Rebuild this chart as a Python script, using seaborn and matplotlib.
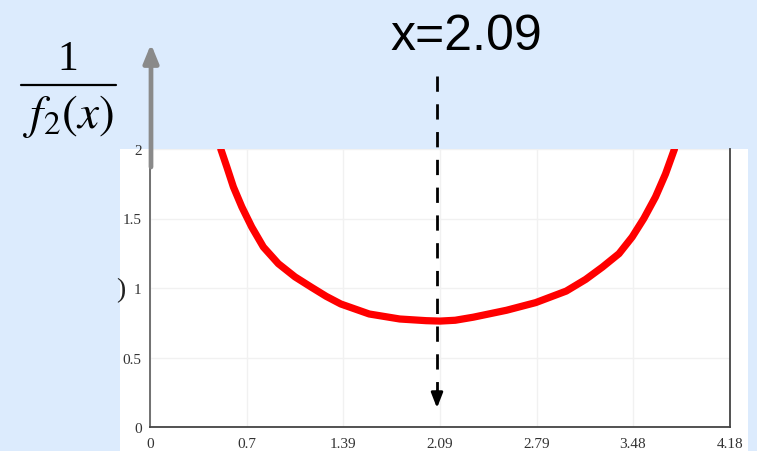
import matplotlib
matplotlib.use("Agg")
import matplotlib.pyplot as plt
import seaborn as sns
from matplotlib.patches import Rectangle
from matplotlib.lines import Line2D

# ---- data ----
x_vals = [0.51, 0.554, 0.601, 0.662, 0.733, 0.817, 0.925, 1.045, 1.164, 1.27,
          1.375, 1.58, 1.80, 1.99, 2.09, 2.20, 2.33, 2.57, 2.78, 3.00, 3.14,
          3.26, 3.38, 3.475, 3.559, 3.643, 3.715, 3.78]
y_vals = [2.00, 1.87, 1.727, 1.583, 1.439, 1.295, 1.175, 1.08, 1.005, 0.94,
          0.885, 0.813, 0.777, 0.765, 0.762, 0.768, 0.79, 0.84, 0.895, 0.978, 1.062,
          1.15, 1.247, 1.367, 1.50, 1.655, 1.82, 2.00]
x_ticks = [0, 0.7, 1.39, 2.09, 2.79, 3.48, 4.18]
x_tick_labels = ["0", "0.7", "1.39", "2.09", "2.79", "3.48", "4.18"]
y_ticks = [0, 0.5, 1, 1.5, 2]
y_tick_labels = ["0", "0.5", "1", "1.5", "2"]
marker_x_label = "x=2.09"

W, H = 757, 452
BG = "#dcebfd"

sns.set_style("white")
plt.rcParams["font.family"] = ["Liberation Serif", "DejaVu Serif"]

fig = plt.figure(figsize=(W / 100, H / 100), dpi=100, facecolor=BG)

def fx(px):
    return px / W

def fy(py):
    return 1 - py / H

# background layer (pixel coords, y down)
bg = fig.add_axes([0, 0, 1, 1], zorder=0)
bg.set_xlim(0, W)
bg.set_ylim(H, 0)
bg.axis("off")
bg.add_patch(Rectangle((120, 150), 628, 310, facecolor="white", edgecolor="none"))

# main axes
L, R, T, B = 150, 730, 150, 428
ax = fig.add_axes([fx(L), fy(B), (R - L) / W, (B - T) / H], zorder=1)
ax.set_facecolor("white")
sns.lineplot(x=x_vals, y=y_vals, ax=ax, color="#ff0000", linewidth=5.2)
ax.set_xlim(0, 4.18)
ax.set_ylim(0, 2)
ax.set_xticks(x_ticks)
ax.set_xticklabels(x_tick_labels)
ax.set_yticks(y_ticks)
ax.set_yticklabels(y_tick_labels)
ax.tick_params(axis="both", length=0, labelsize=11, labelcolor="#333333")
ax.tick_params(axis="x", pad=7)
ax.tick_params(axis="y", pad=6)
ax.grid(True, color="#f1f1f1", linewidth=1)
for s in ["left", "bottom", "right"]:
    ax.spines[s].set_visible(True)
    ax.spines[s].set_color("#444444")
    ax.spines[s].set_linewidth(1.3)
ax.spines["left"].set_color("#666666")
ax.spines["top"].set_visible(False)
ax.set_xlabel("")
ax.set_ylabel("")

# overlay layer
ov = fig.add_axes([0, 0, 1, 1], zorder=3)
ov.set_xlim(0, W)
ov.set_ylim(H, 0)
ov.axis("off")
ov.patch.set_alpha(0)

# gray y-axis arrow
ov.annotate("", xy=(151, 45), xytext=(151, 168),
            arrowprops=dict(arrowstyle="-|>,head_width=0.45,head_length=1.1",
                            color="#8a8a8a", lw=3.4, shrinkA=0, shrinkB=0))

# dashed arrow at x=2.09
ov.add_line(Line2D([437, 437], [77, 396], color="black", lw=2.0,
                   linestyle=(0, (5.5, 4.5))))
ov.annotate("", xy=(437, 409), xytext=(437, 392),
            arrowprops=dict(arrowstyle="-|>,head_width=0.35,head_length=0.9",
                            color="black", lw=2.0, shrinkA=0, shrinkB=0))

# x=2.09 label
ov.text(466, 50, marker_x_label, ha="center", va="baseline", fontsize=36,
        color="black", family=["Liberation Sans", "DejaVu Sans"])

# fraction 1 / f2(x)
ov.text(68, 70, "1", ha="center", va="baseline", fontsize=30, color="black",
        family=["Liberation Serif"])
ov.add_line(Line2D([21, 116], [86, 86], color="black", lw=1.6))
ov.text(68, 117, r"$f_2(x)$", ha="center", va="center", fontsize=34,
        color="black", math_fontfamily="stix")

# partial glyph at left of plot
ov.text(121, 291, ")", ha="center", va="center", fontsize=20, color="#222222",
        family=["Liberation Serif"])

fig.savefig("out.png", dpi=100, facecolor=BG)
